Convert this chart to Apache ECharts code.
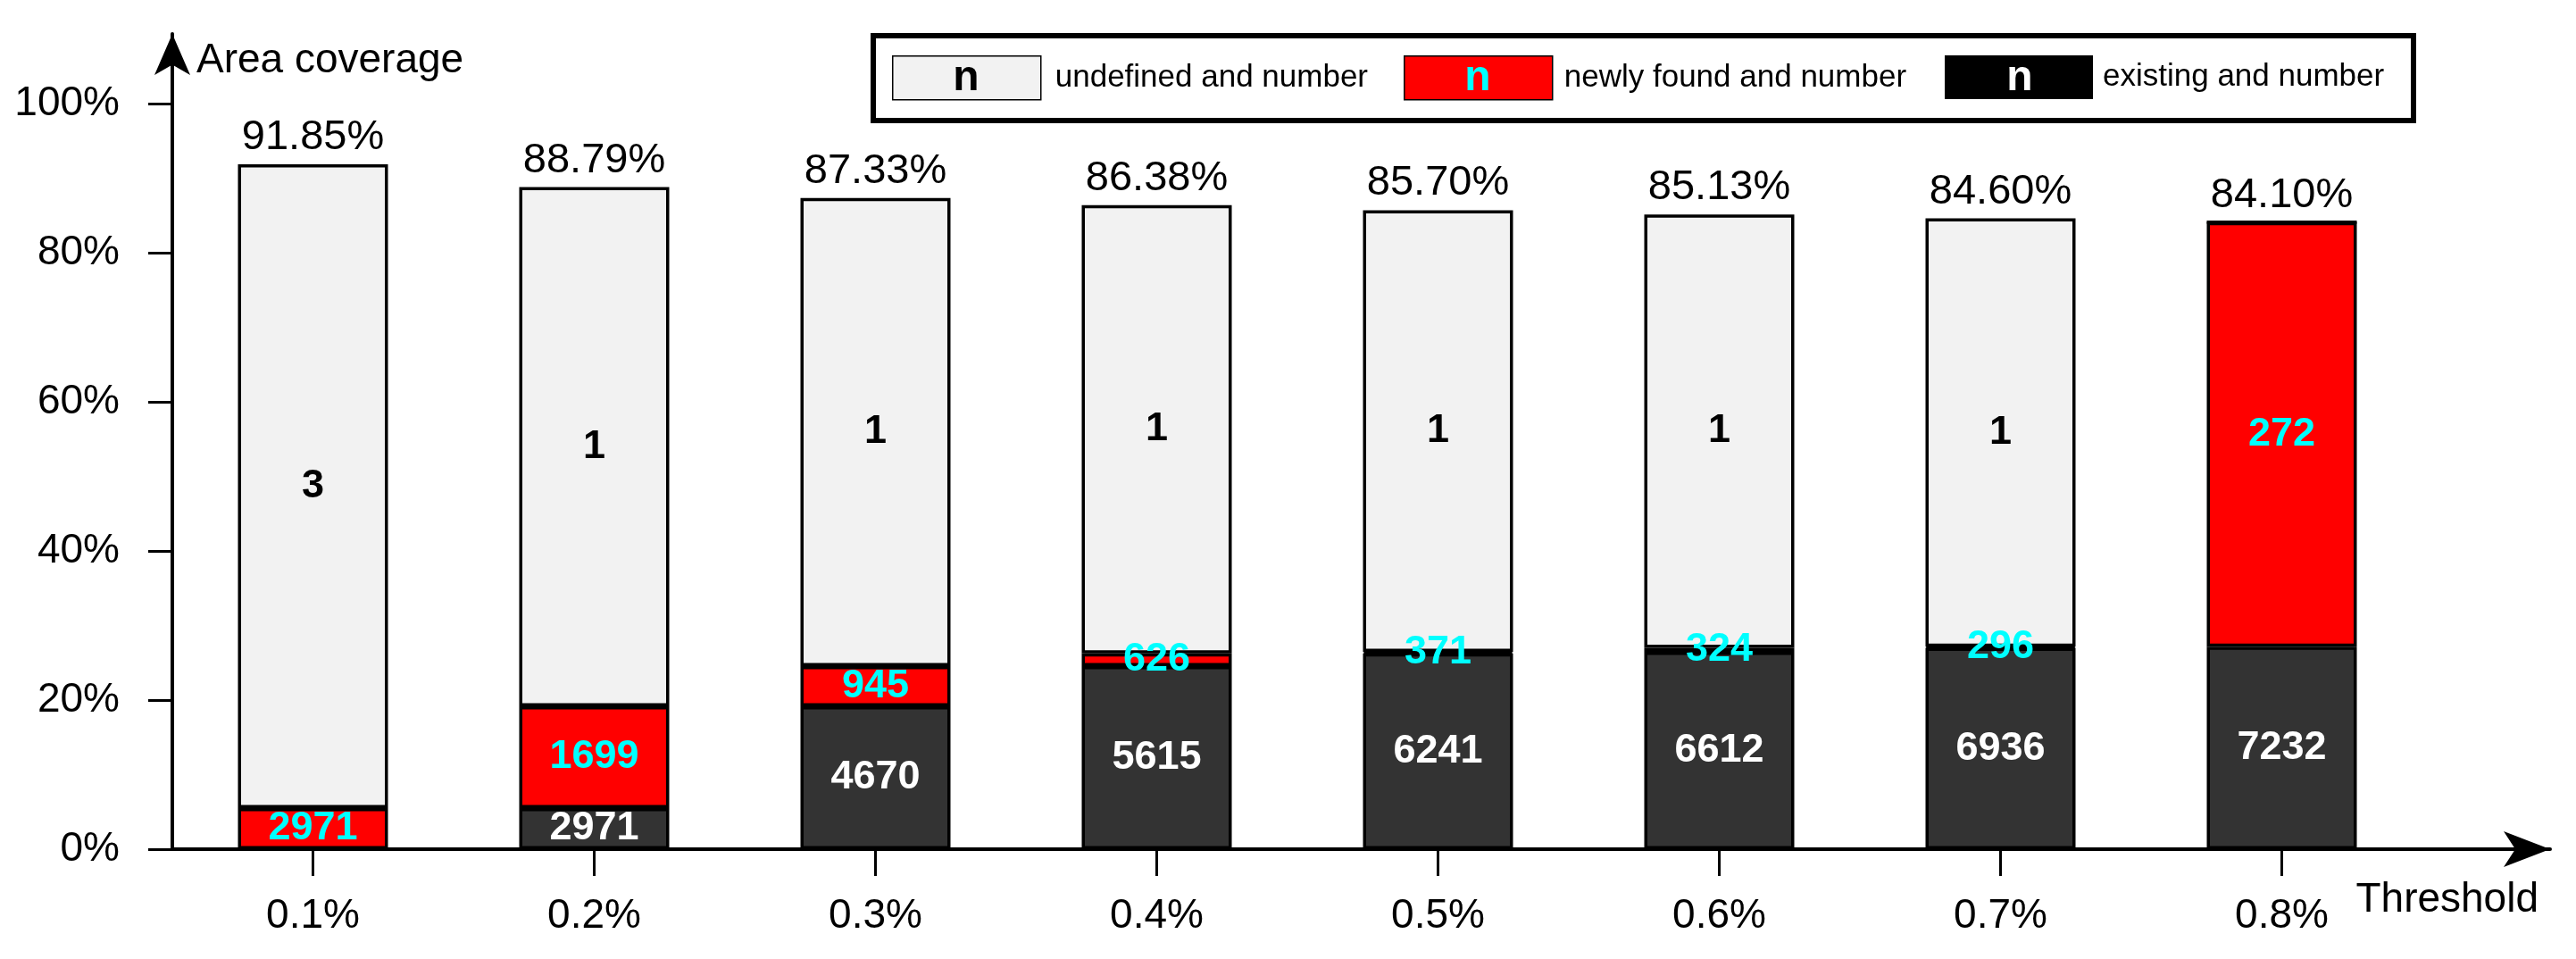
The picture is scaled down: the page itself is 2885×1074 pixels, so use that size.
<!DOCTYPE html>
<html>
<head>
<meta charset="utf-8">
<script src="https://cdn.jsdelivr.net/npm/echarts@6/dist/echarts.min.js"></script>
<style>
html,body{margin:0;padding:0;background:#fff;}
#chart{width:2885px;height:1074px;}
</style>
</head>
<body>
<div id="chart"></div>
<script>
const categories = ['0.1%', '0.2%', '0.3%', '0.4%', '0.5%', '0.6%', '0.7%', '0.8%'];
const existingPct = [0, 5.51, 19.16, 24.55, 26.26, 26.47, 27.00, 27.17];
const newPct = [5.51, 13.65, 5.39, 1.71, 0.21, 0.53, 0.17, 56.93];
const undefinedPct = [86.34, 69.63, 62.78, 60.12, 59.23, 58.13, 57.43, 0];
const totalPct = [91.85, 88.79, 87.33, 86.38, 85.70, 85.13, 84.60, 84.10];
const existingCount = [null, 2971, 4670, 5615, 6241, 6612, 6936, 7232];
const newCount = [2971, 1699, 945, 626, 371, 324, 296, 272];
const undefinedCount = [3, 1, 1, 1, 1, 1, 1, null];
const legendNames = ['undefined and number', 'newly found and number', 'existing and number'];

const FONT = 'Liberation Sans';
const chart = echarts.init(document.getElementById('chart'), null, {renderer: 'canvas'});

function countLabel(arr, color) {
  return {
    show: true,
    position: 'inside',
    fontFamily: FONT,
    fontWeight: 'bold',
    fontSize: 45,
    color: color,
    formatter: p => (arr[p.dataIndex] == null ? '' : String(arr[p.dataIndex]))
  };
}

const barCommon = {
  type: 'bar',
  stack: 'cov',
  barWidth: 168,
  xAxisIndex: 0,
  yAxisIndex: 0
};

const option = {
  animation: false,
  backgroundColor: '#ffffff',
  textStyle: {fontFamily: FONT},
  grid: [
    {left: 193, right: 172, top: 116, bottom: 123, containLabel: false},
    {left: 193, right: 29, top: 38, bottom: 123, containLabel: false}
  ],
  xAxis: [
    {
      type: 'category',
      gridIndex: 0,
      data: categories,
      boundaryGap: true,
      axisLine: {show: false},
      axisTick: {show: true, alignWithLabel: true, length: 30, inside: false, lineStyle: {color: '#000', width: 3}},
      axisLabel: {fontFamily: FONT, fontSize: 46, color: '#000', margin: 52},
      splitLine: {show: false}
    },
    {
      type: 'value',
      gridIndex: 1,
      min: 0, max: 1,
      axisLine: {show: true, symbol: ['none', 'arrow'], symbolSize: [30, 52], lineStyle: {color: '#000', width: 4}},
      axisTick: {show: false},
      axisLabel: {show: false},
      splitLine: {show: false},
      name: 'Threshold',
      nameLocation: 'end',
      nameGap: -13,
      nameTextStyle: {fontFamily: FONT, fontSize: 46, color: '#000', align: 'right', verticalAlign: 'top', padding: [34, 0, 0, 0]}
    }
  ],
  yAxis: [
    {
      type: 'value',
      gridIndex: 0,
      min: 0, max: 100, interval: 20,
      axisLine: {show: false},
      axisTick: {show: true, length: 27, inside: false, lineStyle: {color: '#000', width: 3}},
      axisLabel: {fontFamily: FONT, fontSize: 46, color: '#000', margin: 59, formatter: '{value}%'},
      splitLine: {show: false}
    },
    {
      type: 'value',
      gridIndex: 1,
      min: 0, max: 1,
      axisLine: {show: true, symbol: ['none', 'arrow'], symbolSize: [30, 46], lineStyle: {color: '#000', width: 4}},
      axisTick: {show: false},
      axisLabel: {show: false},
      splitLine: {show: false},
      name: 'Area coverage',
      nameLocation: 'end',
      nameGap: -7,
      nameTextStyle: {fontFamily: FONT, fontSize: 46, color: '#000', align: 'left', verticalAlign: 'top', padding: [0, 0, 0, 27]}
    }
  ],
  legend: [
    {
      data: [legendNames[0]], left: 999, top: 62, padding: 0, icon: 'rect',
      itemWidth: 166, itemHeight: 49,
      itemStyle: {borderWidth: 1.5, borderColor: '#000'},
      textStyle: {fontFamily: FONT, fontSize: 35, color: '#000', padding: [0, 0, 0, 11]}
    },
    {
      data: [legendNames[1]], left: 1572, top: 62, padding: 0, icon: 'rect',
      itemWidth: 166, itemHeight: 49,
      itemStyle: {borderWidth: 1.5, borderColor: '#000'},
      textStyle: {fontFamily: FONT, fontSize: 35, color: '#000', padding: [0, 0, 0, 8]}
    },
    {
      data: [legendNames[2]], left: 2178, top: 62, padding: 0, icon: 'rect',
      itemWidth: 166, itemHeight: 49,
      itemStyle: {borderWidth: 0, color: '#000'},
      textStyle: {fontFamily: FONT, fontSize: 35, color: '#000', padding: [0, 0, 0, 6]}
    }
  ],
  graphic: [
    {type: 'rect', left: 975, top: 37, shape: {width: 1725, height: 95}, style: {fill: 'none', stroke: '#000', lineWidth: 6}, z: 100},
    {type: 'text', x: 1082, y: 88, style: {text: 'n', fill: '#000', font: 'bold 48px "Liberation Sans"', textAlign: 'center', textVerticalAlign: 'middle'}, z: 101},
    {type: 'text', x: 1655, y: 88, style: {text: 'n', fill: '#00ffff', font: 'bold 48px "Liberation Sans"', textAlign: 'center', textVerticalAlign: 'middle'}, z: 101},
    {type: 'text', x: 2262, y: 88, style: {text: 'n', fill: '#ffffff', font: 'bold 48px "Liberation Sans"', textAlign: 'center', textVerticalAlign: 'middle'}, z: 101}
  ],
  series: [
    Object.assign({}, barCommon, {
      name: legendNames[2],
      data: existingPct,
      itemStyle: {color: '#333333', borderColor: '#000', borderWidth: 3.5},
      label: countLabel(existingCount, '#ffffff')
    }),
    Object.assign({}, barCommon, {
      name: legendNames[1],
      data: newPct,
      itemStyle: {color: '#ff0000', borderColor: '#000', borderWidth: 3.5},
      label: countLabel(newCount, '#00ffff')
    }),
    Object.assign({}, barCommon, {
      name: legendNames[0],
      data: undefinedPct,
      itemStyle: {color: '#f2f2f2', borderColor: '#000', borderWidth: 3.5},
      label: countLabel(undefinedCount, '#000000')
    }),
    {
      name: 'total',
      type: 'scatter',
      xAxisIndex: 0, yAxisIndex: 0,
      data: totalPct,
      symbolSize: 1,
      itemStyle: {color: 'rgba(0,0,0,0)'},
      label: {
        show: true, position: 'top', distance: 6,
        fontFamily: FONT, fontSize: 47, color: '#000000', opacity: 1,
        textBorderWidth: 0,
        formatter: p => p.value.toFixed(2) + '%'
      },
      z: 10
    }
  ]
};
chart.setOption(option);
</script>
</body>
</html>
